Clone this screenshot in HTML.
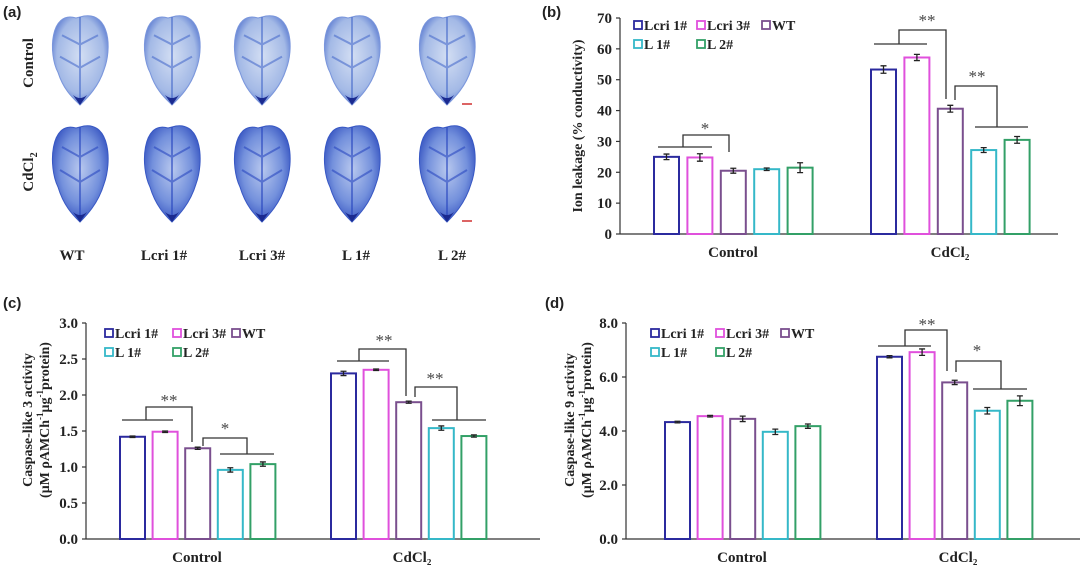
<!DOCTYPE html>
<html><head><meta charset="utf-8"><style>
html,body{margin:0;padding:0;background:#fff;}
svg{display:block;}
text{font-family:"Liberation Serif",serif;font-weight:bold;fill:#222;}
.pl{font-family:"Liberation Sans",sans-serif;font-size:15px;}
</style></head><body>
<svg id="fig" width="1080" height="567" viewBox="0 0 1080 567" xmlns="http://www.w3.org/2000/svg">
<defs>
<radialGradient id="leafL" cx="50%" cy="45%" r="60%"><stop offset="0" stop-color="#d3def3"/><stop offset="0.7" stop-color="#a3b9e6"/><stop offset="1" stop-color="#4a6ccc"/></radialGradient>
<radialGradient id="leafD" cx="50%" cy="45%" r="60%"><stop offset="0" stop-color="#b8c8ee"/><stop offset="0.6" stop-color="#7390dc"/><stop offset="1" stop-color="#2a48bc"/></radialGradient>
</defs>
<g id="panelA"></g>
<g id="panelB"></g>
<g id="panelC"></g>
<g id="panelD"></g>
</svg>
<script>
const NS='http://www.w3.org/2000/svg';
const lines=['Lcri 1#','Lcri 3#','WT','L 1#','L 2#'];
const colors=['#2b2a9e','#e050dc','#7a4f8e','#35b8c8','#33a067'];
const groups=['Control','CdCl\u2082'];
// panel b
const bTicks=[0,10,20,30,40,50,60,70];
const bCtrl=[25.0,24.8,20.5,21.0,21.5];
const bCtrlErr=[0.9,1.2,0.8,0.4,1.6];
const bCd=[53.3,57.2,40.6,27.2,30.5];
const bCdErr=[1.2,1.0,1.1,0.8,1.1];
// panel c
const cTicks=[0.0,0.5,1.0,1.5,2.0,2.5,3.0];
const cCtrl=[1.42,1.49,1.26,0.96,1.04];
const cCtrlErr=[0.01,0.01,0.015,0.03,0.03];
const cCd=[2.30,2.35,1.90,1.54,1.43];
const cCdErr=[0.03,0.01,0.015,0.03,0.015];
// panel d
const dTicks=[0.0,2.0,4.0,6.0,8.0];
const dCtrl=[4.33,4.55,4.45,3.97,4.18];
const dCtrlErr=[0.03,0.03,0.1,0.1,0.08];
const dCd=[6.75,6.92,5.80,4.75,5.12];
const dCdErr=[0.04,0.12,0.08,0.12,0.18];

function el(tag,attrs,parent,txt){const e=document.createElementNS(NS,tag);for(const k in attrs)e.setAttribute(k,attrs[k]);if(txt!==undefined)e.textContent=txt;parent.appendChild(e);return e;}

function chart(g,cfg){
  const y=v=>cfg.y0-(v-cfg.min)/(cfg.max-cfg.min)*(cfg.y0-cfg.y1);
  const ax=el('line',{x1:cfg.xa,y1:cfg.y1,x2:cfg.xa,y2:cfg.y0,stroke:'#333','stroke-width':1.2},g);
  
  
  const xl=el('line',{x1:cfg.xa,y1:cfg.y0,x2:cfg.xe,y2:cfg.y0,stroke:'#333','stroke-width':1.2},g);
  
  
  cfg.ticks.forEach(t=>{
    el('line',{x1:cfg.xa-4,y1:y(t),x2:cfg.xa,y2:y(t),stroke:'#333','stroke-width':1.2},g);
    const tl=el('text',{x:cfg.xa-8,y:y(t)+5,'text-anchor':'end','font-size':15},g,cfg.fmt(t));
    
    
  });
  const sets=[[cfg.ctrl,cfg.ctrlErr,cfg.g0],[cfg.cd,cfg.cdErr,cfg.g1]];
  sets.forEach((s,gi)=>{
    s[0].forEach((v,i)=>{
      const x=s[2]+i*cfg.pitch;
      const r=el('rect',{x:x+1,y:y(v),width:cfg.bw-2,height:cfg.y0-y(v),fill:'#fff',stroke:colors[i],'stroke-width':2},g);
      
      
      const cx=x+cfg.bw/2,e=s[1][i];
      el('path',{d:`M${cx},${y(v+e)}V${y(v-e)}M${cx-3},${y(v+e)}H${cx+3}M${cx-3},${y(v-e)}H${cx+3}`,stroke:'#222','stroke-width':1.3,fill:'none'},g);
    });
    const gl=el('text',{x:cfg.gl[gi],y:cfg.gy,'text-anchor':'middle','font-size':15},g,groups[gi]);
    
    
  });
  lines.forEach((n,i)=>{
    const col=i<3?i:i-3,row=i<3?0:1;
    const lx=cfg.lx[col],ly=cfg.ly[row];
    const lg=el('g',{},g);
    
    
    el('rect',{x:lx,y:ly-9,width:8,height:8,fill:'#fff',stroke:colors[i],'stroke-width':1.8},lg);
    el('text',{x:lx+10,y:ly,'font-size':14},lg,n);
  });
  const tt=el('text',{transform:`translate(${cfg.tx},${cfg.ty}) rotate(-90)`,'text-anchor':'middle','font-size':14},g);
  
  
  cfg.title.forEach((t,k)=>{const ts=el('tspan',{x:0,dy:k?17:0},tt);ts.innerHTML=t;});
  (cfg.br||[]).forEach(b=>{
    el('path',{d:b.d,stroke:'#333','stroke-width':1.3,fill:'none'},g);
    const st=el('text',{x:b.sx,y:b.sy,'text-anchor':'middle','font-size':17,style:'font-weight:normal;fill:#444'},g,b.s);
    
    
  });
  el('text',{x:cfg.px,y:cfg.py,class:'pl'},g,cfg.pl);
}

chart(document.getElementById('panelB'),{xa:620,xe:1058,y0:234,y1:18,min:0,max:70,ticks:bTicks,fmt:t=>t,
 ctrl:bCtrl,ctrlErr:bCtrlErr,cd:bCd,cdErr:bCdErr,g0:653,g1:870,pitch:33.4,bw:27,gl:[733,950],gy:257,
 lx:[634,697,762],ly:[30,49],tx:582,ty:126,title:['Ion leakage (% conductivity)'],
 br:[{d:'M658,147H712M683,147V135H729V152',s:'*',sx:705,sy:134},
     {d:'M874,44H927M899,44V30H946V99',s:'**',sx:927,sy:26},
     {d:'M975,127H1028M997,127V86H955V100',s:'**',sx:977,sy:82}],
 px:542,py:17,pl:'(b)'});
chart(document.getElementById('panelC'),{xa:86,xe:540,y0:539,y1:323,min:0,max:3,ticks:cTicks,fmt:t=>t.toFixed(1),
 ctrl:cCtrl,ctrlErr:cCtrlErr,cd:cCd,cdErr:cCdErr,g0:119,g1:330,pitch:32.6,bw:27,gl:[197,412],gy:562,
 lx:[105,173,232],ly:[338,357],tx:32,ty:420,title:['Caspase-like 3 activity','(μM ρAMCh<tspan font-size="9" dy="-6">-1</tspan><tspan dy="6">μg</tspan><tspan font-size="9" dy="-6">-1</tspan><tspan dy="6">protein)</tspan>'],
 br:[{d:'M122,420H173M146,420V407H192V442',s:'**',sx:169,sy:406},
     {d:'M220,454H274M247,454V438H203V446',s:'*',sx:225,sy:434},
     {d:'M337,361H389M359,361V349H406V396',s:'**',sx:384,sy:346},
     {d:'M432,420H486M457,420V387H415V397',s:'**',sx:435,sy:384}],
 px:3,py:308,pl:'(c)'});
chart(document.getElementById('panelD'),{xa:626,xe:1080,y0:539,y1:323,min:0,max:8,ticks:dTicks,fmt:t=>t.toFixed(1),
 ctrl:dCtrl,ctrlErr:dCtrlErr,cd:dCd,cdErr:dCdErr,g0:664,g1:876,pitch:32.6,bw:27,gl:[742,958],gy:562,
 lx:[651,716,781],ly:[338,357],tx:574,ty:420,title:['Caspase-like 9 activity','(μM ρAMCh<tspan font-size="9" dy="-6">-1</tspan><tspan dy="6">μg</tspan><tspan font-size="9" dy="-6">-1</tspan><tspan dy="6">protein)</tspan>'],
 br:[{d:'M878,346H931M905,346V330H947V371',s:'**',sx:927,sy:330},
     {d:'M973,389H1027M1001,389V361H956V372',s:'*',sx:977,sy:356}],
 px:545,py:308,pl:'(d)'});

const A=document.getElementById('panelA');
el('text',{x:3,y:17,class:'pl'},A,'(a)');
const colsX=[80,172,262,352,447];
const rowsY=[[12,105],[122,222]];
rowsY.forEach((ry,ri)=>{
  colsX.forEach((cx,ci)=>{
    const t=ry[0],b=ry[1],h=b-t,w=30;
    const d=`M${cx-4},${t+6}C${cx-w},${t-2} ${cx-w-2},${t+h*0.45} ${cx-w+8},${t+h*0.65}C${cx-16},${t+h*0.85} ${cx-6},${b-6} ${cx},${b}C${cx+6},${b-6} ${cx+18},${t+h*0.82} ${cx+w-6},${t+h*0.62}C${cx+w+2},${t+h*0.4} ${cx+w},${t} ${cx+4},${t+4}Z`;
    const lf=el('path',{d:d,fill:ri?'url(#leafD)':'url(#leafL)',stroke:ri?'#3858c4':'#7a96dc','stroke-width':1},A);
    
    
    el('path',{d:`M${cx},${t+5}V${b-4}M${cx},${t+h*0.35}L${cx-18},${t+h*0.25}M${cx},${t+h*0.35}L${cx+18},${t+h*0.25}M${cx},${t+h*0.6}L${cx-20},${t+h*0.48}M${cx},${t+h*0.6}L${cx+20},${t+h*0.48}`,stroke:ri?'#2a48c0':'#4a6ccc','stroke-width':2,fill:'none',opacity:0.6},A);
    el('path',{d:`M${cx-7},${b-10}Q${cx},${b-4} ${cx+7},${b-10}L${cx},${b}Z`,fill:'#1a2a90'},A);
  });
  el('line',{x1:462,y1:ry[1]-1,x2:472,y2:ry[1]-1,stroke:'#d03030','stroke-width':1.5},A);
});
const rl1=el('text',{transform:'translate(33,63) rotate(-90)','text-anchor':'middle','font-size':15},A,'Control');


const rl2=el('text',{transform:'translate(33,172) rotate(-90)','text-anchor':'middle','font-size':15},A);
rl2.innerHTML='CdCl<tspan font-size="10" dy="4">2</tspan>';


const colLabX=[72,164,262,356,452];
['WT','Lcri 1#','Lcri 3#','L 1#','L 2#'].forEach((n,i)=>{
  const c=el('text',{x:colLabX[i],y:260,'text-anchor':'middle','font-size':15},A,n);
  
  
});
</script>
</body></html>
